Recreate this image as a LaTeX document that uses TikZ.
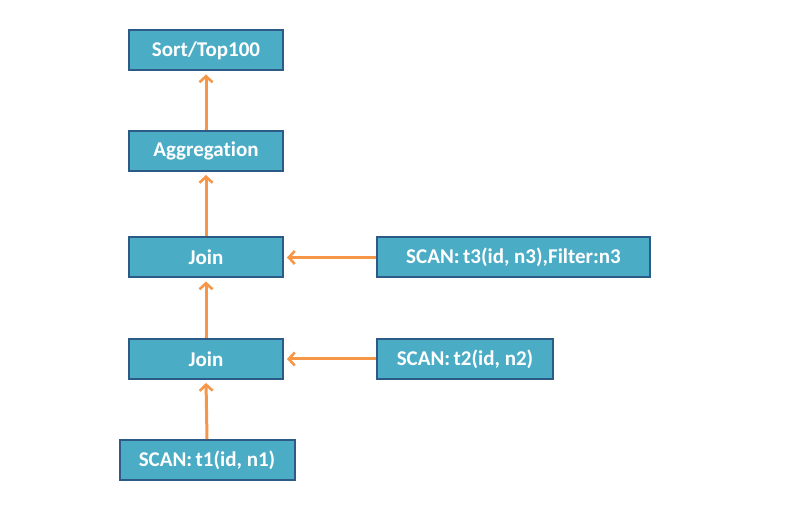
\documentclass[tikz,border=0pt]{standalone}
\usepackage{fontspec}
\setmainfont{Carlito}[RawFeature=-liga]
\usetikzlibrary{arrows.meta}
\definecolor{boxfill}{HTML}{4BACC6}
\definecolor{boxline}{HTML}{2E5A88}
\definecolor{arr}{HTML}{F79646}
\begin{document}
\begin{tikzpicture}[x=1pt,y=-1pt,
  opbox/.style={draw=boxline, line width=2pt, fill=boxfill, text=white,
    font=\bfseries\fontsize{21}{24}\selectfont, inner sep=0pt, anchor=center},
  flow/.style={draw=arr, line width=3pt, -{Straight Barb[length=6pt,width=13pt,line width=2.6pt]}, shorten >=3pt}]
\useasboundingbox (0,0) rectangle (785,518);
\node[opbox, minimum width=154pt, minimum height=40pt] (sort) at (206,50.5) {Sort/Top100};
\node[opbox, minimum width=154pt, minimum height=40pt] (agg) at (206,151) {Aggregation};
\node[opbox, minimum width=154pt, minimum height=40pt] (join1) at (206,257.5) {Join};
\node[opbox, minimum width=273pt, minimum height=40pt] (t3) at (513.5,257.5) {SCAN:\,t3(id, n3),Filter:n3};
\node[opbox, minimum width=154pt, minimum height=40pt] (join2) at (206,359) {Join};
\node[opbox, minimum width=176pt, minimum height=40pt] (t2) at (465,359) {SCAN:\,t2(id, n2)};
\node[opbox, minimum width=175pt, minimum height=40pt] (t1) at (207,460) {SCAN:\,t1(id, n1)};
\draw[flow] (agg.north) -- (sort.south);
\draw[flow] (join1.north) -- (agg.south);
\draw[flow] (join2.north) -- (join1.south);
\draw[flow] (t1.north) -- (join2.south);
\draw[flow] (t3.west) -- (join1.east);
\draw[flow] (t2.west) -- (join2.east);
\end{tikzpicture}
\end{document}
